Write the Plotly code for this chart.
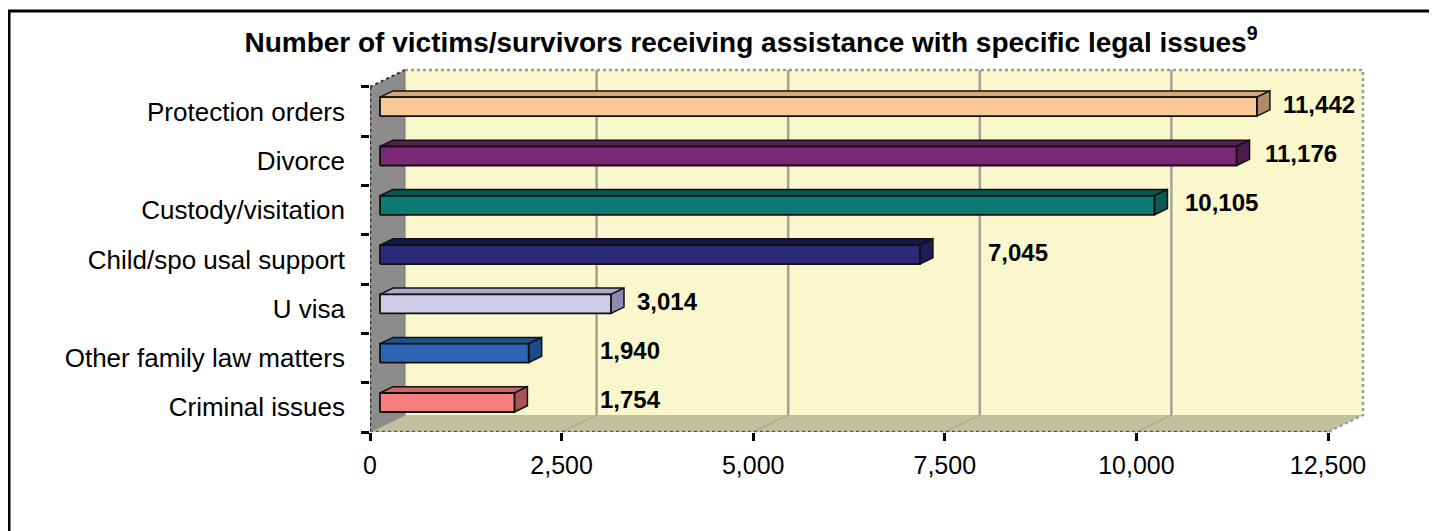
import plotly.graph_objects as go

# ---------------- data ----------------
categories = ["Protection orders", "Divorce", "Custody/visitation", "Child/spo usal support",
              "U visa", "Other family law matters", "Criminal issues"]
values = [11442, 11176, 10105, 7045, 3014, 1940, 1754]
x_ticks = [0, 2500, 5000, 7500, 10000, 12500]
x_tick_labels = ["0", "2,500", "5,000", "7,500", "10,000", "12,500"]

# ---------------- styles ----------------
front_colors = ["#F9C997", "#7B2877", "#0B7A73", "#2A2A78", "#CDCBE6", "#2C63B2", "#F77E7E"]
top_colors = ["#D7A67A", "#5B1A58", "#075652", "#17174F", "#AAA8CE", "#20508F", "#CF6464"]
end_colors = ["#B08A68", "#4E1A4C", "#0A5A55", "#1C1C58", "#8C8AB0", "#1D4A88", "#A85454"]
label_left = [11890, 11650, 10610, 8040, 3460, 2975, 2975]   # label anchor (value units)

FONT = "Arial, Liberation Sans, sans-serif"
OFF = 8                            # page body margin
PX_PER_UNIT = 958 / 12500          # front-plane x scale
BAND_PX = 49.3                     # category band height in px
DX = 35 / PX_PER_UNIT              # depth offset (value units)
DY = 17 / BAND_PX                  # depth offset (band units)
F1, F2 = 10 / 35, 23 / 35          # bar front/back depth fractions
BAR_H = 19 / BAND_PX
N = len(categories)
XMAX = 12500
PLOT_W, PLOT_H = 1010, 372
ML, MT = 370 - OFF, 60 - OFF
X_RANGE = [0, PLOT_W / PX_PER_UNIT]
Y_RANGE = [0, PLOT_H / BAND_PX]

fig = go.Figure()


def poly(xs, ys, fill, line_color=None, line_width=0, dash=None):
    fig.add_trace(go.Scatter(
        x=xs + [xs[0]], y=ys + [ys[0]], mode="lines", fill="toself",
        fillcolor=fill, line=dict(color=line_color or fill, width=line_width, dash=dash),
        hoverinfo="skip", showlegend=False))


def seg(xs, ys, color, width, dash=None):
    fig.add_trace(go.Scatter(x=xs, y=ys, mode="lines",
                             line=dict(color=color, width=width, dash=dash),
                             hoverinfo="skip", showlegend=False))


# back wall
poly([DX, XMAX + DX, XMAX + DX, DX], [DY, DY, N + DY, N + DY], "#FAF7CD")
# floor
poly([0, XMAX, XMAX + DX, DX], [0, 0, DY, DY], "#C2C19E")
# side wall
poly([0, DX, DX, 0], [0, DY, N + DY, N], "#8C8C8C")

# gridlines on back wall and floor
for v in x_ticks[1:-1]:
    seg([v + DX, v + DX], [DY, N + DY], "#A3A299", 2.5)
    seg([v, v + DX], [0, DY], "#A8A795", 1.2)
seg([DX, DX], [DY, N + DY], "#777777", 1)

# wall outlines (hatched look)
seg([DX, XMAX + DX, XMAX + DX, XMAX], [N + DY, N + DY, DY, 0], "#9A9A9A", 2.5, "dot")
seg([0, DX], [N, N + DY], "#333333", 2, "dot")
seg([0, XMAX], [0, 0], "#555555", 2.5, "dot")
seg([0, 0], [0, N], "#333333", 2.5, "dot")
seg([0, DX], [0, DY], "#888888", 1)

# bars (3D boxes)
for k, (cat, val) in enumerate(zip(categories, values)):
    i = N - 1 - k
    c = i + 0.5 + F1 * DY
    x0 = F1 * DX
    x1 = val + F1 * DX
    y0, y1 = c - BAR_H / 2, c + BAR_H / 2
    d = (F2 - F1) * DX
    dd = (F2 - F1) * DY
    poly([x0, x1, x1 + d, x0 + d], [y1, y1, y1 + dd, y1 + dd], top_colors[k], "#111111", 1.5)
    poly([x1, x1 + d, x1 + d, x1], [y0, y0 + dd, y1 + dd, y1], end_colors[k], "#111111", 1.5)
    poly([x0, x1, x1, x0], [y0, y0, y1, y1], front_colors[k], "#111111", 1.8)
    fig.add_annotation(x=label_left[k], y=i + 0.65, text=f"{val:,}", showarrow=False,
                       xanchor="left", yanchor="middle",
                       font=dict(family=FONT, size=24, color="black", weight="bold"))

# outer border (page px 9, 11)
fig.add_shape(type="rect", xref="paper", yref="paper",
              x0=(9 - OFF - ML) / PLOT_W, x1=1.2, y0=-1,
              y1=(MT + PLOT_H - (11 - OFF)) / PLOT_H,
              line=dict(color="black", width=3), fillcolor="rgba(0,0,0,0)", layer="above")

fig.update_layout(
    width=1437, height=531,
    margin=dict(l=ML, r=1437 - ML - PLOT_W, t=MT, b=531 - MT - PLOT_H),
    paper_bgcolor="white", plot_bgcolor="white",
    title=dict(text="<b>Number of victims/survivors receiving assistance with specific legal issues<sup>9</sup></b>",
               x=(751 - OFF) / 1437, xref="container", xanchor="center",
               y=1 - (42 - OFF) / 531, yref="container", yanchor="middle",
               font=dict(family=FONT, size=28, color="black")),
    xaxis=dict(range=X_RANGE, tickmode="array", tickvals=x_ticks, ticktext=x_tick_labels,
               ticks="outside", ticklen=8, tickwidth=2.5, tickcolor="black",
               ticklabelstandoff=3,
               showgrid=False, zeroline=False, showline=False,
               tickfont=dict(family=FONT, size=25, color="black")),
    yaxis=dict(range=Y_RANGE, tickmode="array",
               tickvals=[N - 1 - k + 0.5 for k in range(N)], ticktext=categories,
               ticks="", ticklabelstandoff=24,
               showgrid=False, zeroline=False, showline=False,
               minor=dict(tickmode="array", tickvals=list(range(N + 1)), ticks="outside",
                          ticklen=8, tickwidth=2.5, tickcolor="black", showgrid=False),
               tickfont=dict(family=FONT, size=26, color="black")),
)

fig.write_html("out.html")
